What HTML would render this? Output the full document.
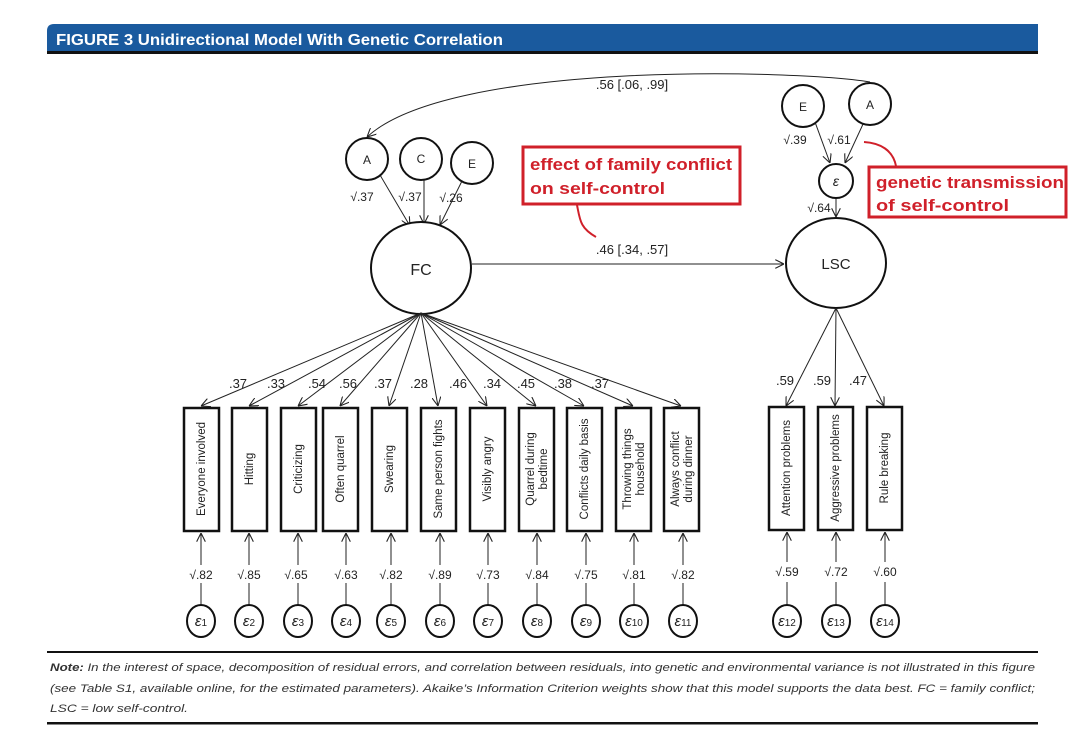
<!DOCTYPE html>
<html><head><meta charset="utf-8"><style>
html,body{margin:0;padding:0;background:#fff;}
svg{display:block;}
text{font-family:"Liberation Sans",sans-serif;}
</style></head><body>
<svg width="1072" height="753" viewBox="0 0 1072 753" xmlns="http://www.w3.org/2000/svg">
<defs>
<marker id="ar" viewBox="0 0 10 10" refX="10" refY="5" markerWidth="9" markerHeight="9" orient="auto-start-reverse" markerUnits="userSpaceOnUse">
<path d="M0,0 L10,5 L0,10" fill="none" stroke="#222" stroke-width="1.2"/>
</marker>
</defs>
<path d="M47,51 V31 Q47,24 54,24 H1038 V51 Z" fill="#1a5a9e"/>
<rect x="47" y="51" width="991" height="3" fill="#111"/>
<text x="56" y="45" fill="#fff" font-size="16" font-weight="bold" textLength="447" lengthAdjust="spacingAndGlyphs">FIGURE 3  Unidirectional Model With Genetic Correlation</text>

<g stroke="#222" fill="none" stroke-width="1">
<path d="M870,82 C800,70 450,60 367,137" marker-end="url(#ar)"/>
<line x1="380" y1="175" x2="410" y2="226" marker-end="url(#ar)"/>
<line x1="424" y1="180" x2="424" y2="224" marker-end="url(#ar)"/>
<line x1="462" y1="181" x2="440" y2="225" marker-end="url(#ar)"/>
<line x1="472" y1="264" x2="784" y2="264" marker-end="url(#ar)"/>
<line x1="815" y1="122" x2="830" y2="163" marker-end="url(#ar)"/>
<line x1="864" y1="122" x2="845" y2="163" marker-end="url(#ar)"/>
<line x1="836" y1="198" x2="836" y2="217" marker-end="url(#ar)"/>
</g>
<g stroke="#111" fill="#fff" stroke-width="2">
<circle cx="367" cy="159" r="21"/>
<circle cx="421" cy="159" r="21"/>
<circle cx="472" cy="163" r="21"/>
<ellipse cx="421" cy="268" rx="50" ry="46"/>
<ellipse cx="836" cy="263" rx="50" ry="45"/>
<circle cx="803" cy="106" r="21"/>
<circle cx="870" cy="104" r="21"/>
<circle cx="836" cy="181" r="17"/>
</g>
<g font-size="12" fill="#222" text-anchor="middle">
<text x="367" y="164">A</text><text x="421" y="163">C</text><text x="472" y="168">E</text>
<text x="803" y="111">E</text><text x="870" y="109">A</text>
<text x="836" y="186" font-style="italic" font-family="Liberation Serif,serif" font-size="14">ε</text>
<text x="421" y="275" font-size="16">FC</text>
<text x="836" y="269" font-size="15">LSC</text>
<text x="362" y="201">√.37</text><text x="410" y="201">√.37</text><text x="451" y="202">√.26</text>
<text x="795" y="144">√.39</text><text x="839" y="144">√.61</text><text x="819" y="212">√.64</text>
<text x="632" y="89" font-size="13">.56 [.06, .99]</text>
<text x="632" y="254" font-size="13">.46 [.34, .57]</text>
</g>

<g fill="none" stroke="#d0202a" stroke-width="3">
<rect x="523" y="147" width="217" height="57"/>
<rect x="869" y="167" width="197" height="50"/>
<path d="M577,205 C580,220 580,228 596,237" stroke-width="2"/>
<path d="M864,142 C880,143 893,150 896,166" stroke-width="2"/>
</g>
<g fill="#d0202a" font-size="17" font-weight="bold">
<text x="530" y="170" textLength="202" lengthAdjust="spacingAndGlyphs">effect of family conflict</text>
<text x="530" y="194" textLength="135" lengthAdjust="spacingAndGlyphs">on self-control</text>
<text x="876" y="188" textLength="188" lengthAdjust="spacingAndGlyphs">genetic transmission</text>
<text x="876" y="211" textLength="133" lengthAdjust="spacingAndGlyphs">of self-control</text>
</g>

<g stroke="#222" stroke-width="1" fill="none">
<line x1="421" y1="313" x2="201" y2="406" marker-end="url(#ar)"/>
<line x1="421" y1="313" x2="249" y2="406" marker-end="url(#ar)"/>
<line x1="421" y1="313" x2="298" y2="406" marker-end="url(#ar)"/>
<line x1="421" y1="313" x2="340" y2="406" marker-end="url(#ar)"/>
<line x1="421" y1="313" x2="389" y2="406" marker-end="url(#ar)"/>
<line x1="421" y1="313" x2="438" y2="406" marker-end="url(#ar)"/>
<line x1="421" y1="313" x2="487" y2="406" marker-end="url(#ar)"/>
<line x1="421" y1="313" x2="536" y2="406" marker-end="url(#ar)"/>
<line x1="421" y1="313" x2="584" y2="406" marker-end="url(#ar)"/>
<line x1="421" y1="313" x2="633" y2="406" marker-end="url(#ar)"/>
<line x1="421" y1="313" x2="681" y2="406" marker-end="url(#ar)"/>
<line x1="836" y1="308" x2="786" y2="406" marker-end="url(#ar)"/>
<line x1="836" y1="308" x2="835" y2="406" marker-end="url(#ar)"/>
<line x1="836" y1="308" x2="884" y2="406" marker-end="url(#ar)"/>
</g>
<g font-size="13" fill="#222" text-anchor="middle">
<text x="238" y="388">.37</text><text x="276" y="388">.33</text><text x="317" y="388">.54</text><text x="348" y="388">.56</text>
<text x="383" y="388">.37</text><text x="419" y="388">.28</text><text x="458" y="388">.46</text><text x="492" y="388">.34</text>
<text x="526" y="388">.45</text><text x="563" y="388">.38</text><text x="600" y="388">.37</text>
<text x="785" y="385">.59</text><text x="822" y="385">.59</text><text x="858" y="385">.47</text>
</g>

<g stroke="#111" stroke-width="2.5" fill="#fff">
<rect x="184" y="408" width="35" height="123"/><rect x="232" y="408" width="35" height="123"/>
<rect x="281" y="408" width="35" height="123"/><rect x="323" y="408" width="35" height="123"/>
<rect x="372" y="408" width="35" height="123"/><rect x="421" y="408" width="35" height="123"/>
<rect x="470" y="408" width="35" height="123"/><rect x="519" y="408" width="35" height="123"/>
<rect x="567" y="408" width="35" height="123"/><rect x="616" y="408" width="35" height="123"/>
<rect x="664" y="408" width="35" height="123"/>
<rect x="769" y="407" width="35" height="123"/><rect x="818" y="407" width="35" height="123"/><rect x="867" y="407" width="35" height="123"/>
</g>
<g font-size="11.5" fill="#222" text-anchor="middle">
<text transform="translate(205,469) rotate(-90)">Everyone involved</text>
<text transform="translate(253,469) rotate(-90)">Hitting</text>
<text transform="translate(302,469) rotate(-90)">Criticizing</text>
<text transform="translate(344,469) rotate(-90)">Often quarrel</text>
<text transform="translate(393,469) rotate(-90)">Swearing</text>
<text transform="translate(442,469) rotate(-90)">Same person fights</text>
<text transform="translate(491,469) rotate(-90)">Visibly angry</text>
<text transform="translate(534,469) rotate(-90)">Quarrel during</text><text transform="translate(547,469) rotate(-90)">bedtime</text>
<text transform="translate(588,469) rotate(-90)">Conflicts daily basis</text>
<text transform="translate(631,469) rotate(-90)">Throwing things</text><text transform="translate(644,469) rotate(-90)">household</text>
<text transform="translate(679,469) rotate(-90)">Always conflict</text><text transform="translate(692,469) rotate(-90)">during dinner</text>
<text transform="translate(790,468) rotate(-90)">Attention problems</text>
<text transform="translate(839,468) rotate(-90)">Aggressive problems</text>
<text transform="translate(888,468) rotate(-90)">Rule breaking</text>
</g>
<g stroke="#222" stroke-width="1" fill="none">
<line x1="201" y1="565" x2="201" y2="533" marker-end="url(#ar)"/><line x1="201" y1="583" x2="201" y2="605"/>
<line x1="249" y1="565" x2="249" y2="533" marker-end="url(#ar)"/><line x1="249" y1="583" x2="249" y2="605"/>
<line x1="298" y1="565" x2="298" y2="533" marker-end="url(#ar)"/><line x1="298" y1="583" x2="298" y2="605"/>
<line x1="346" y1="565" x2="346" y2="533" marker-end="url(#ar)"/><line x1="346" y1="583" x2="346" y2="605"/>
<line x1="391" y1="565" x2="391" y2="533" marker-end="url(#ar)"/><line x1="391" y1="583" x2="391" y2="605"/>
<line x1="440" y1="565" x2="440" y2="533" marker-end="url(#ar)"/><line x1="440" y1="583" x2="440" y2="605"/>
<line x1="488" y1="565" x2="488" y2="533" marker-end="url(#ar)"/><line x1="488" y1="583" x2="488" y2="605"/>
<line x1="537" y1="565" x2="537" y2="533" marker-end="url(#ar)"/><line x1="537" y1="583" x2="537" y2="605"/>
<line x1="586" y1="565" x2="586" y2="533" marker-end="url(#ar)"/><line x1="586" y1="583" x2="586" y2="605"/>
<line x1="634" y1="565" x2="634" y2="533" marker-end="url(#ar)"/><line x1="634" y1="583" x2="634" y2="605"/>
<line x1="683" y1="565" x2="683" y2="533" marker-end="url(#ar)"/><line x1="683" y1="583" x2="683" y2="605"/>
<line x1="787" y1="562" x2="787" y2="532" marker-end="url(#ar)"/><line x1="787" y1="582" x2="787" y2="605"/>
<line x1="836" y1="562" x2="836" y2="532" marker-end="url(#ar)"/><line x1="836" y1="582" x2="836" y2="605"/>
<line x1="885" y1="562" x2="885" y2="532" marker-end="url(#ar)"/><line x1="885" y1="582" x2="885" y2="605"/>
</g>
<g font-size="12" fill="#222" text-anchor="middle">
<text x="201" y="579">√.82</text><text x="249" y="579">√.85</text><text x="296" y="579">√.65</text><text x="346" y="579">√.63</text>
<text x="391" y="579">√.82</text><text x="440" y="579">√.89</text><text x="488" y="579">√.73</text><text x="537" y="579">√.84</text>
<text x="586" y="579">√.75</text><text x="634" y="579">√.81</text><text x="683" y="579">√.82</text>
<text x="787" y="576">√.59</text><text x="836" y="576">√.72</text><text x="885" y="576">√.60</text>
</g>
<g stroke="#111" stroke-width="2" fill="#fff">
<ellipse cx="201" cy="621" rx="14" ry="16"/><ellipse cx="249" cy="621" rx="14" ry="16"/><ellipse cx="298" cy="621" rx="14" ry="16"/>
<ellipse cx="346" cy="621" rx="14" ry="16"/><ellipse cx="391" cy="621" rx="14" ry="16"/><ellipse cx="440" cy="621" rx="14" ry="16"/>
<ellipse cx="488" cy="621" rx="14" ry="16"/><ellipse cx="537" cy="621" rx="14" ry="16"/><ellipse cx="586" cy="621" rx="14" ry="16"/>
<ellipse cx="634" cy="621" rx="14" ry="16"/><ellipse cx="683" cy="621" rx="14" ry="16"/>
<ellipse cx="787" cy="621" rx="14" ry="16"/><ellipse cx="836" cy="621" rx="14" ry="16"/><ellipse cx="885" cy="621" rx="14" ry="16"/>
</g>
<g font-size="15" fill="#222" text-anchor="middle" font-family="Liberation Serif,serif" font-style="italic">
<text x="201" y="626">ε<tspan font-size="10" font-style="normal">1</tspan></text>
<text x="249" y="626">ε<tspan font-size="10" font-style="normal">2</tspan></text>
<text x="298" y="626">ε<tspan font-size="10" font-style="normal">3</tspan></text>
<text x="346" y="626">ε<tspan font-size="10" font-style="normal">4</tspan></text>
<text x="391" y="626">ε<tspan font-size="10" font-style="normal">5</tspan></text>
<text x="440" y="626">ε<tspan font-size="10" font-style="normal">6</tspan></text>
<text x="488" y="626">ε<tspan font-size="10" font-style="normal">7</tspan></text>
<text x="537" y="626">ε<tspan font-size="10" font-style="normal">8</tspan></text>
<text x="586" y="626">ε<tspan font-size="10" font-style="normal">9</tspan></text>
<text x="634" y="626">ε<tspan font-size="10" font-style="normal">10</tspan></text>
<text x="683" y="626">ε<tspan font-size="10" font-style="normal">11</tspan></text>
<text x="787" y="626">ε<tspan font-size="10" font-style="normal">12</tspan></text>
<text x="836" y="626">ε<tspan font-size="10" font-style="normal">13</tspan></text>
<text x="885" y="626">ε<tspan font-size="10" font-style="normal">14</tspan></text>
</g>

<rect x="47" y="651" width="991" height="2" fill="#111"/>
<g font-size="11" fill="#333" font-style="italic">
<text x="50" y="671" textLength="985" lengthAdjust="spacingAndGlyphs"><tspan font-weight="bold">Note:</tspan> In the interest of space, decomposition of residual errors, and correlation between residuals, into genetic and environmental variance is not illustrated in this figure</text>
<text x="50" y="692" textLength="985" lengthAdjust="spacingAndGlyphs">(see Table S1, available online, for the estimated parameters). Akaike’s Information Criterion weights show that this model supports the data best. FC = family conflict;</text>
<text x="50" y="712" textLength="138" lengthAdjust="spacingAndGlyphs">LSC = low self-control.</text>
</g>
<rect x="47" y="722" width="991" height="2.5" fill="#111"/>
</svg>
</body></html>
